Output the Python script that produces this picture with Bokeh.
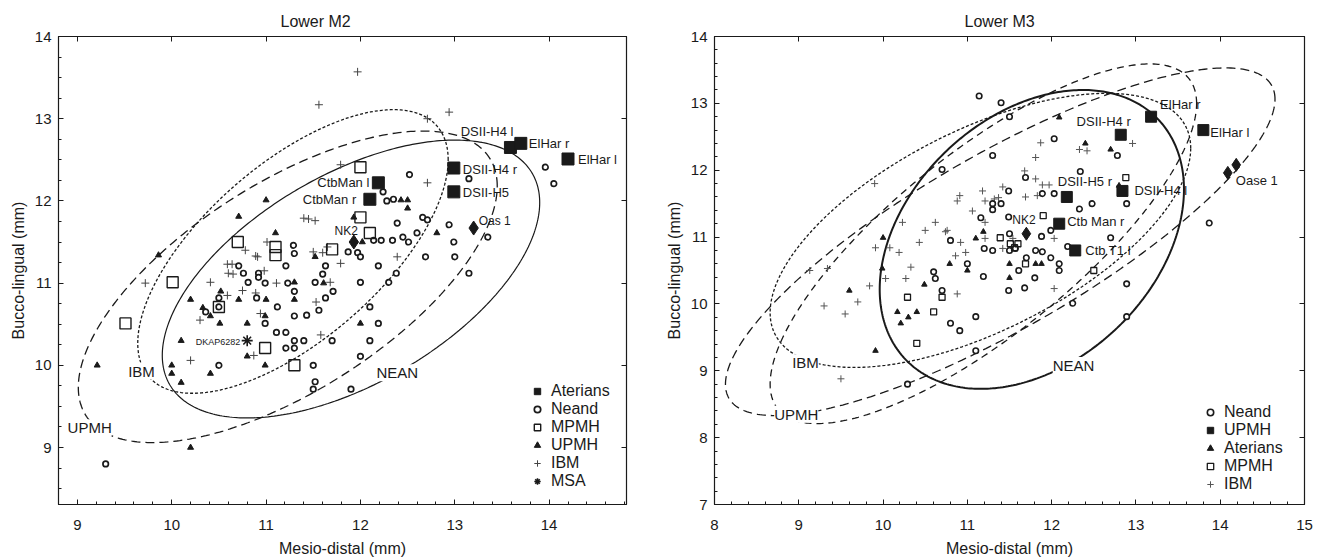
import numpy as np
from bokeh.plotting import figure
from bokeh.models import (ColumnDataSource, Legend, LegendItem, LinearAxis,
                          FixedTicker, LabelSet, Range1d)
from bokeh.layouts import row
from bokeh.embed import file_html
from bokeh.resources import INLINE
from bokeh.core.properties import value

# ------------------------------------------------------------------ Lower M2 data
m2_ater_x = [12.19, 12.10, 12.99, 12.99, 13.59, 13.70, 14.20]
m2_ater_y = [12.22, 12.02, 12.40, 12.11, 12.65, 12.70, 12.51]
m2_ater_lab = ["CtbMan l", "CtbMan  r", "DSII-H4 r", "DSII-H5", "DSII-H4 l", "ElHar r", "ElHar l"]

m2_dia_x = [11.93, 13.20]
m2_dia_y = [11.50, 11.67]
m2_dia_lab = ["NK2", "Oas 1"]

m2_msa_x = [10.80]
m2_msa_y = [10.30]
m2_msa_lab = ["DKAP6282"]

m2_mpmh_x = [12.00, 12.00, 12.10, 10.70, 11.10, 11.10, 11.70, 10.01, 9.51, 10.50, 10.99, 11.30]
m2_mpmh_y = [12.41, 11.80, 11.61, 11.50, 11.44, 11.34, 11.41, 11.01, 10.51, 10.71, 10.21, 10.00]

m2_upmh_x = [11.00, 10.71, 9.86, 11.10, 11.93, 12.43, 12.50, 12.50, 12.81, 12.02, 11.30, 11.52,
             11.61, 11.30, 12.00, 10.80, 10.99, 10.41, 10.00, 10.00, 10.10, 10.10, 10.20, 10.33,
             10.41, 10.52, 10.51, 10.71, 11.00, 10.80, 10.99, 9.21, 10.20]
m2_upmh_y = [12.01, 11.81, 11.34, 11.61, 11.80, 12.01, 12.01, 11.91, 11.61, 11.50, 11.01, 11.32,
             11.00, 10.80, 10.51, 10.11, 10.00, 9.90, 10.00, 9.90, 9.79, 10.30, 10.80, 10.70,
             10.60, 10.90, 10.51, 10.80, 10.80, 10.51, 10.60, 10.00, 9.00]

m2_nean_x = [12.52, 13.15, 12.24, 12.28, 12.35, 12.66, 12.39, 12.71, 12.94, 12.14, 12.22, 12.34,
             12.45, 12.51, 12.60, 11.87, 11.97, 12.00, 12.99, 11.29, 11.30, 10.71, 10.76, 10.92,
             10.92, 10.81, 10.99, 11.23, 11.21, 11.63, 11.60, 12.19, 12.69, 13.00, 13.15, 12.38,
             12.30, 12.00, 11.52, 11.71, 11.63, 11.56, 11.43, 11.30, 11.30, 11.12, 10.99, 11.11,
             11.21, 11.30, 11.40, 11.21, 11.30, 11.70, 12.10, 12.10, 12.19, 12.00, 11.50, 11.52,
             11.50, 11.90, 10.50, 10.50, 10.36, 10.50, 10.90, 9.30, 13.96, 14.05, 13.35]
m2_nean_y = [12.32, 12.27, 12.11, 12.00, 12.02, 11.80, 11.73, 11.77, 11.71, 11.52, 11.52, 11.52,
             11.56, 11.50, 11.61, 11.38, 11.37, 11.32, 11.50, 11.46, 11.36, 11.21, 11.12, 11.12,
             11.07, 11.01, 11.00, 11.00, 11.21, 11.21, 11.11, 11.21, 11.32, 11.32, 11.12, 11.12,
             11.01, 11.01, 11.01, 10.90, 10.82, 10.67, 10.61, 10.60, 10.90, 10.71, 10.51, 10.40,
             10.40, 10.30, 10.30, 10.21, 10.21, 10.30, 10.30, 10.71, 10.51, 10.11, 10.00, 9.80,
             9.71, 9.71, 10.00, 10.71, 10.65, 10.82, 10.82, 8.80, 12.41, 12.21, 11.56]

m2_ibm_x = [11.97, 11.56, 12.71, 12.94, 11.79, 12.71, 11.40, 11.45, 11.52, 10.78, 10.91, 11.01,
            9.72, 10.41, 10.59, 10.64, 10.60, 10.65, 10.98, 11.11, 11.79, 12.39, 11.68, 11.53,
            11.58, 10.20, 10.30, 10.59, 10.75, 10.89, 10.94, 11.50, 11.60, 11.65, 10.89, 10.87]
m2_ibm_y = [13.57, 13.17, 13.00, 13.08, 12.44, 12.22, 11.79, 11.78, 11.76, 11.40, 11.32, 11.50,
            11.00, 11.01, 11.23, 11.23, 11.12, 11.11, 11.15, 11.00, 11.24, 11.32, 11.01, 10.77,
            10.37, 10.06, 10.55, 10.85, 10.91, 10.88, 10.63, 11.38, 11.37, 11.44, 11.33, 10.12]

# ellipses: centre, half ranges, correlation
m2_ell_name = ["NEAN", "IBM", "UPMH"]
m2_ell_cx = [11.90, 11.285, 11.23]
m2_ell_cy = [11.05, 11.385, 10.955]
m2_ell_sx = [2.00, 1.645, 2.22]
m2_ell_sy = [1.69, 1.725, 1.895]
m2_ell_r = [0.55, 0.647, 0.646]
m2_ell_lab_x = [12.39, 9.68, 9.13]
m2_ell_lab_y = [9.91, 9.93, 9.24]

# ------------------------------------------------------------------ Lower M3 data
m3_sq_x = [12.82, 13.18, 13.80, 12.18, 12.84, 12.09, 12.28]
m3_sq_y = [12.53, 12.80, 12.60, 11.60, 11.69, 11.20, 10.80]
m3_sq_lab = ["DSII-H4 r", "ElHar r", "ElHar l", "DSII-H5 r", "DSII-H4 l", "Ctb Man r", "Ctb T1 l"]

m3_dia_x = [11.70, 14.09, 14.19]
m3_dia_y = [11.05, 11.96, 12.08]
m3_dia_lab = ["NK2", "Oase 1", ""]

m3_tri_x = [12.09, 12.40, 12.70, 12.80, 11.19, 11.10, 10.00, 11.50, 11.81, 11.88, 11.50, 11.00,
            10.49, 10.40, 10.30, 10.21, 10.17, 9.91, 9.60, 9.99, 10.79]
m3_tri_y = [12.79, 12.40, 12.31, 11.77, 11.08, 10.98, 10.99, 10.60, 10.60, 10.60, 10.39, 10.50,
            10.29, 9.88, 9.80, 9.71, 9.88, 9.30, 10.20, 10.53, 10.60]

m3_mpmh_x = [12.88, 11.90, 11.39, 11.51, 11.56, 11.60, 11.69, 12.50, 10.70, 10.29, 10.60, 10.40]
m3_mpmh_y = [11.89, 11.32, 10.99, 10.90, 10.84, 10.90, 10.60, 10.50, 10.10, 10.10, 9.88, 9.41]

m3_nean_x = [11.14, 11.40, 11.50, 12.03, 12.78, 11.30, 10.70, 12.34, 11.69, 12.33, 12.48, 12.89,
             11.89, 12.03, 11.49, 11.30, 11.40, 11.30, 11.16, 11.49, 11.99, 11.50, 11.88, 12.70,
             12.19, 11.57, 10.80, 11.20, 11.30, 11.50, 11.81, 11.89, 11.70, 11.99, 12.09, 12.09,
             11.61, 11.80, 11.19, 11.00, 10.60, 10.62, 10.70, 11.49, 11.68, 12.89, 12.25, 12.89,
             13.87, 10.80, 10.91, 11.10, 11.10, 10.29]
m3_nean_y = [13.11, 13.01, 12.80, 12.47, 12.22, 12.22, 12.01, 11.98, 11.89, 11.42, 11.50, 11.50,
             11.65, 11.65, 11.69, 11.50, 11.50, 11.41, 11.29, 11.30, 11.10, 11.05, 11.01, 10.99,
             10.86, 10.83, 10.95, 10.83, 10.80, 10.80, 10.80, 10.78, 10.69, 10.69, 10.60, 10.50,
             10.50, 10.39, 10.41, 10.60, 10.48, 10.38, 10.20, 10.20, 10.24, 10.30, 10.01, 9.81,
             11.21, 9.71, 9.60, 9.81, 9.30, 8.80]

m3_ibm_x = [11.87, 12.33, 12.42, 12.96, 11.81, 11.68, 11.81, 11.89, 11.97, 11.83, 11.69, 11.42,
            11.18, 10.91, 10.88, 11.06, 11.32, 11.37, 11.21, 11.21, 11.21, 11.54, 12.03, 10.92,
            10.74, 10.62, 10.43, 10.23, 9.91, 10.08, 10.19, 11.42, 10.86, 10.98, 10.27, 10.03,
            9.84, 10.88, 12.03, 9.30, 9.55, 9.70, 9.34, 9.13, 9.50, 9.90, 10.50, 10.76, 10.33]
m3_ibm_y = [12.41, 12.31, 12.29, 12.40, 12.19, 11.99, 11.87, 11.78, 11.78, 11.62, 11.60, 11.75,
            11.69, 11.62, 11.54, 11.39, 11.57, 11.59, 11.54, 11.22, 10.98, 10.98, 10.98, 10.92,
            11.08, 11.22, 10.92, 11.22, 10.84, 10.84, 10.77, 10.83, 10.72, 10.77, 10.38, 10.38,
            10.27, 10.15, 10.23, 9.97, 9.85, 10.03, 10.53, 10.50, 8.88, 11.80, 11.10, 11.10, 10.55]

m3_ell_name = ["NEAN", "IBM", "UPMH", ""]
m3_ell_cx = [11.765, 11.155, 11.39, 11.19]
m3_ell_cy = [10.965, 11.10, 10.93, 10.90]
m3_ell_sx = [1.805, 2.495, 3.26, 2.53]
m3_ell_sy = [2.235, 2.05, 2.60, 2.69]
m3_ell_r = [0.335, 0.60, 0.82, 0.78]
m3_ell_lab_x = [12.26, 9.08, 8.97]
m3_ell_lab_y = [9.08, 9.12, 8.35]

# ------------------------------------------------------------------ styles
INK = "#1a1a1a"
FONT = "Liberation Sans"

m2_lab_style = {  # align, x offset, y offset, size
    "CtbMan l": ("right", -9, 0, "13px"), "CtbMan  r": ("right", -10, 0, "13px"),
    "DSII-H4 r": ("left", 9, 1, "13px"), "DSII-H5": ("left", 9, 1, "13px"),
    "DSII-H4 l": ("right", 3, -16, "13px"), "ElHar r": ("left", 8, 0, "13px"),
    "ElHar l": ("left", 10, 1, "13px"), "NK2": ("right", 4, -11, "12px"),
    "Oas 1": ("left", 5, -7, "12px"), "DKAP6282": ("right", -7, 1, "9px"),
}
m3_lab_style = {
    "DSII-H4 r": ("right", 10, -13, "13px"), "ElHar r": ("left", 9, -12, "13px"),
    "ElHar l": ("left", 7, 2, "13px"), "DSII-H5 r": ("left", -9, -15, "13px"),
    "DSII-H4 l": ("left", 12, 0, "13px"), "Ctb Man r": ("left", 8, -2, "13px"),
    "Ctb T1 l": ("left", 10, 0, "13px"), "NK2": ("left", -14, -14, "12px"),
    "Oase 1": ("left", 8, 8, "13px"), "": ("left", 0, 0, "13px"),
}
ell_dash = {"NEAN": "solid", "IBM": "3 2", "UPMH": "9 5", "": "7 5"}


def ellipse_pts(cx, cy, sx, sy, r):
    t = np.linspace(0, 2 * np.pi, 361)
    return cx + sx * np.cos(t), cy + sy * (r * np.cos(t) + np.sqrt(1 - r * r) * np.sin(t))


def make_fig(title, xr, yr, xmaj, xmin, ymaj, ymin, fw, bl, br, title_shift):
    p = figure(frame_width=fw, frame_height=468, x_range=Range1d(*xr), y_range=Range1d(*yr),
               output_backend="svg", toolbar_location=None, title=title,
               min_border_left=bl, min_border_right=br, min_border_top=36, min_border_bottom=50)
    p.title.align = "left"
    p.title.offset = title_shift
    p.title.text_font = FONT
    p.title.text_font_size = "16px"
    p.title.text_font_style = "normal"
    p.title.text_color = INK
    p.title.standoff = 14
    p.grid.visible = False
    p.outline_line_color = INK
    p.outline_line_width = 1.2
    p.background_fill_color = "white"
    p.border_fill_color = "white"
    p.xaxis.ticker = FixedTicker(ticks=xmaj, minor_ticks=xmin)
    p.yaxis.ticker = FixedTicker(ticks=ymaj, minor_ticks=ymin)
    for ax in (p.xaxis[0], p.yaxis[0]):
        ax.axis_line_color = INK
        ax.major_tick_in = 5
        ax.major_tick_out = 0
        ax.minor_tick_in = 3
        ax.minor_tick_out = 0
        ax.major_tick_line_color = INK
        ax.minor_tick_line_color = INK
        ax.major_label_text_font = FONT
        ax.major_label_text_font_size = "15px"
        ax.major_label_text_color = INK
        ax.axis_label_text_font = FONT
        ax.axis_label_text_font_size = "16px"
        ax.axis_label_text_font_style = "normal"
        ax.axis_label_text_color = INK
    p.xaxis.axis_label = "Mesio-distal (mm)"
    p.yaxis.axis_label = "Bucco-lingual (mm)"
    p.xaxis.major_label_standoff = 15
    p.xaxis.axis_label_standoff = 7
    p.yaxis.major_label_standoff = 7
    p.yaxis.axis_label_standoff = 5
    # frame ticks on top and right: unlabeled (drawn as minor ticks, no labels)
    for side, ticks in (("above", xmaj), ("right", ymaj)):
        ax = LinearAxis(ticker=FixedTicker(ticks=[], minor_ticks=ticks), major_tick_in=0,
                        major_tick_out=0, minor_tick_in=5, minor_tick_out=0,
                        minor_tick_line_color=INK, axis_line_color=INK,
                        major_label_text_font_size="15px")
        p.add_layout(ax, side)
    return p


def add_ellipses(p, names, cxs, cys, sxs, sys_, rs, solid_width):
    for n, cx, cy, sx, sy, r in zip(names, cxs, cys, sxs, sys_, rs):
        ex, ey = ellipse_pts(cx, cy, sx, sy, r)
        p.line(ex, ey, line_color=INK, line_dash=ell_dash[n],
               line_width=solid_width if n == "NEAN" else 1.3)


def add_ellipse_labels(p, names, lx, ly):
    src = ColumnDataSource(dict(x=lx, y=ly, t=names[:len(lx)]))
    p.add_layout(LabelSet(x="x", y="y", text="t", source=src, text_align="center",
                          text_baseline="middle", text_font=value(FONT), text_font_size="15px",
                          text_color=INK, background_fill_color="white"))


def add_point_labels(p, xs, ys, labs, style):
    src = ColumnDataSource(dict(
        x=xs, y=ys, t=labs,
        al=[style[l][0] for l in labs], xo=[style[l][1] for l in labs],
        yo=[style[l][2] for l in labs], fs=[style[l][3] for l in labs]))
    p.text(x="x", y="y", text="t", source=src, text_align="al", x_offset="xo", y_offset="yo",
           text_font_size="fs", text_baseline="middle", text_font=value(FONT), text_color=INK)


def legend(p, items, loc):
    lg = Legend(items=[LegendItem(label=l, renderers=[r]) for l, r in items], location=loc,
                orientation="vertical", label_text_font=FONT, label_text_font_size="16px",
                label_text_color=INK, glyph_width=16, glyph_height=16, label_height=16,
                spacing=0, padding=0, margin=0, label_standoff=6, border_line_alpha=0,
                background_fill_alpha=0)
    p.add_layout(lg)


# ------------------------------------------------------------------ Lower M2 figure
p1 = make_fig("Lower M2", (8.8, 14.82), (8.307, 14.0), list(range(9, 15)),
              list(np.round(np.arange(8.8, 14.82, 0.2), 2)), list(range(9, 15)),
              list(np.round(np.arange(8.5, 14.0, 0.25), 2)), 568, 58, 36, 222)
add_ellipses(p1, m2_ell_name, m2_ell_cx, m2_ell_cy, m2_ell_sx, m2_ell_sy, m2_ell_r, 1.2)
r_ibm = p1.scatter(m2_ibm_x, m2_ibm_y, marker="cross", size=8, line_color="#444", line_width=1)
r_upmh = p1.scatter(m2_upmh_x, m2_upmh_y, marker="triangle", size=6, fill_color=INK, line_color=INK)
r_nean = p1.scatter(m2_nean_x, m2_nean_y, marker="circle", size=5.5, fill_color="white",
                    line_color=INK, line_width=1.7)
r_mpmh = p1.scatter(m2_mpmh_x, m2_mpmh_y, marker="square", size=11, fill_alpha=0,
                    line_color=INK, line_width=1.4)
r_msa = p1.scatter(m2_msa_x, m2_msa_y, marker="asterisk", size=11, line_color=INK, line_width=1.6)
r_ater = p1.scatter(m2_ater_x, m2_ater_y, marker="square", size=12, fill_color=INK, line_color=INK)
p1.scatter(m2_dia_x, m2_dia_y, marker="diamond", size=14, fill_color=INK, line_color=INK)
add_ellipse_labels(p1, m2_ell_name, m2_ell_lab_x, m2_ell_lab_y)
add_point_labels(p1, m2_ater_x, m2_ater_y, m2_ater_lab, m2_lab_style)
add_point_labels(p1, m2_dia_x, m2_dia_y, m2_dia_lab, m2_lab_style)
add_point_labels(p1, m2_msa_x, m2_msa_y, m2_msa_lab, m2_lab_style)
legend(p1, [("Aterians", r_ater), ("Neand", r_nean), ("MPMH", r_mpmh), ("UPMH", r_upmh),
            ("IBM", r_ibm), ("MSA", r_msa)], (471, 14))

# ------------------------------------------------------------------ Lower M3 figure
p2 = make_fig("Lower M3", (8.0, 15.0), (7.0, 14.0), list(range(8, 16)),
              list(np.round(np.arange(8.0, 15.0, 0.2), 2)), list(range(7, 15)),
              list(np.round(np.arange(7.0, 14.0, 0.2), 2)), 590, 50, 10, 250)
add_ellipses(p2, m3_ell_name, m3_ell_cx, m3_ell_cy, m3_ell_sx, m3_ell_sy, m3_ell_r, 2.0)
q_ibm = p2.scatter(m3_ibm_x, m3_ibm_y, marker="cross", size=7, line_color="#555", line_width=1)
q_tri = p2.scatter(m3_tri_x, m3_tri_y, marker="triangle", size=5.5, fill_color=INK, line_color=INK)
q_nean = p2.scatter(m3_nean_x, m3_nean_y, marker="circle", size=5.5, fill_color="white",
                    line_color=INK, line_width=1.6)
q_mpmh = p2.scatter(m3_mpmh_x, m3_mpmh_y, marker="square", size=6, fill_alpha=0,
                    line_color=INK, line_width=1.3)
q_sq = p2.scatter(m3_sq_x, m3_sq_y, marker="square", size=11, fill_color=INK, line_color=INK)
p2.scatter(m3_dia_x, m3_dia_y, marker="diamond", size=13, fill_color=INK, line_color=INK)
add_ellipse_labels(p2, m3_ell_name, m3_ell_lab_x, m3_ell_lab_y)
add_point_labels(p2, m3_sq_x, m3_sq_y, m3_sq_lab, m3_lab_style)
add_point_labels(p2, m3_dia_x, m3_dia_y, m3_dia_lab, m3_lab_style)
legend(p2, [("Neand", q_nean), ("UPMH", q_sq), ("Aterians", q_tri), ("MPMH", q_mpmh),
            ("IBM", q_ibm)], (488, 11))

layout = row(p1, p2)
open("out.html", "w").write(file_html(layout, INLINE))
